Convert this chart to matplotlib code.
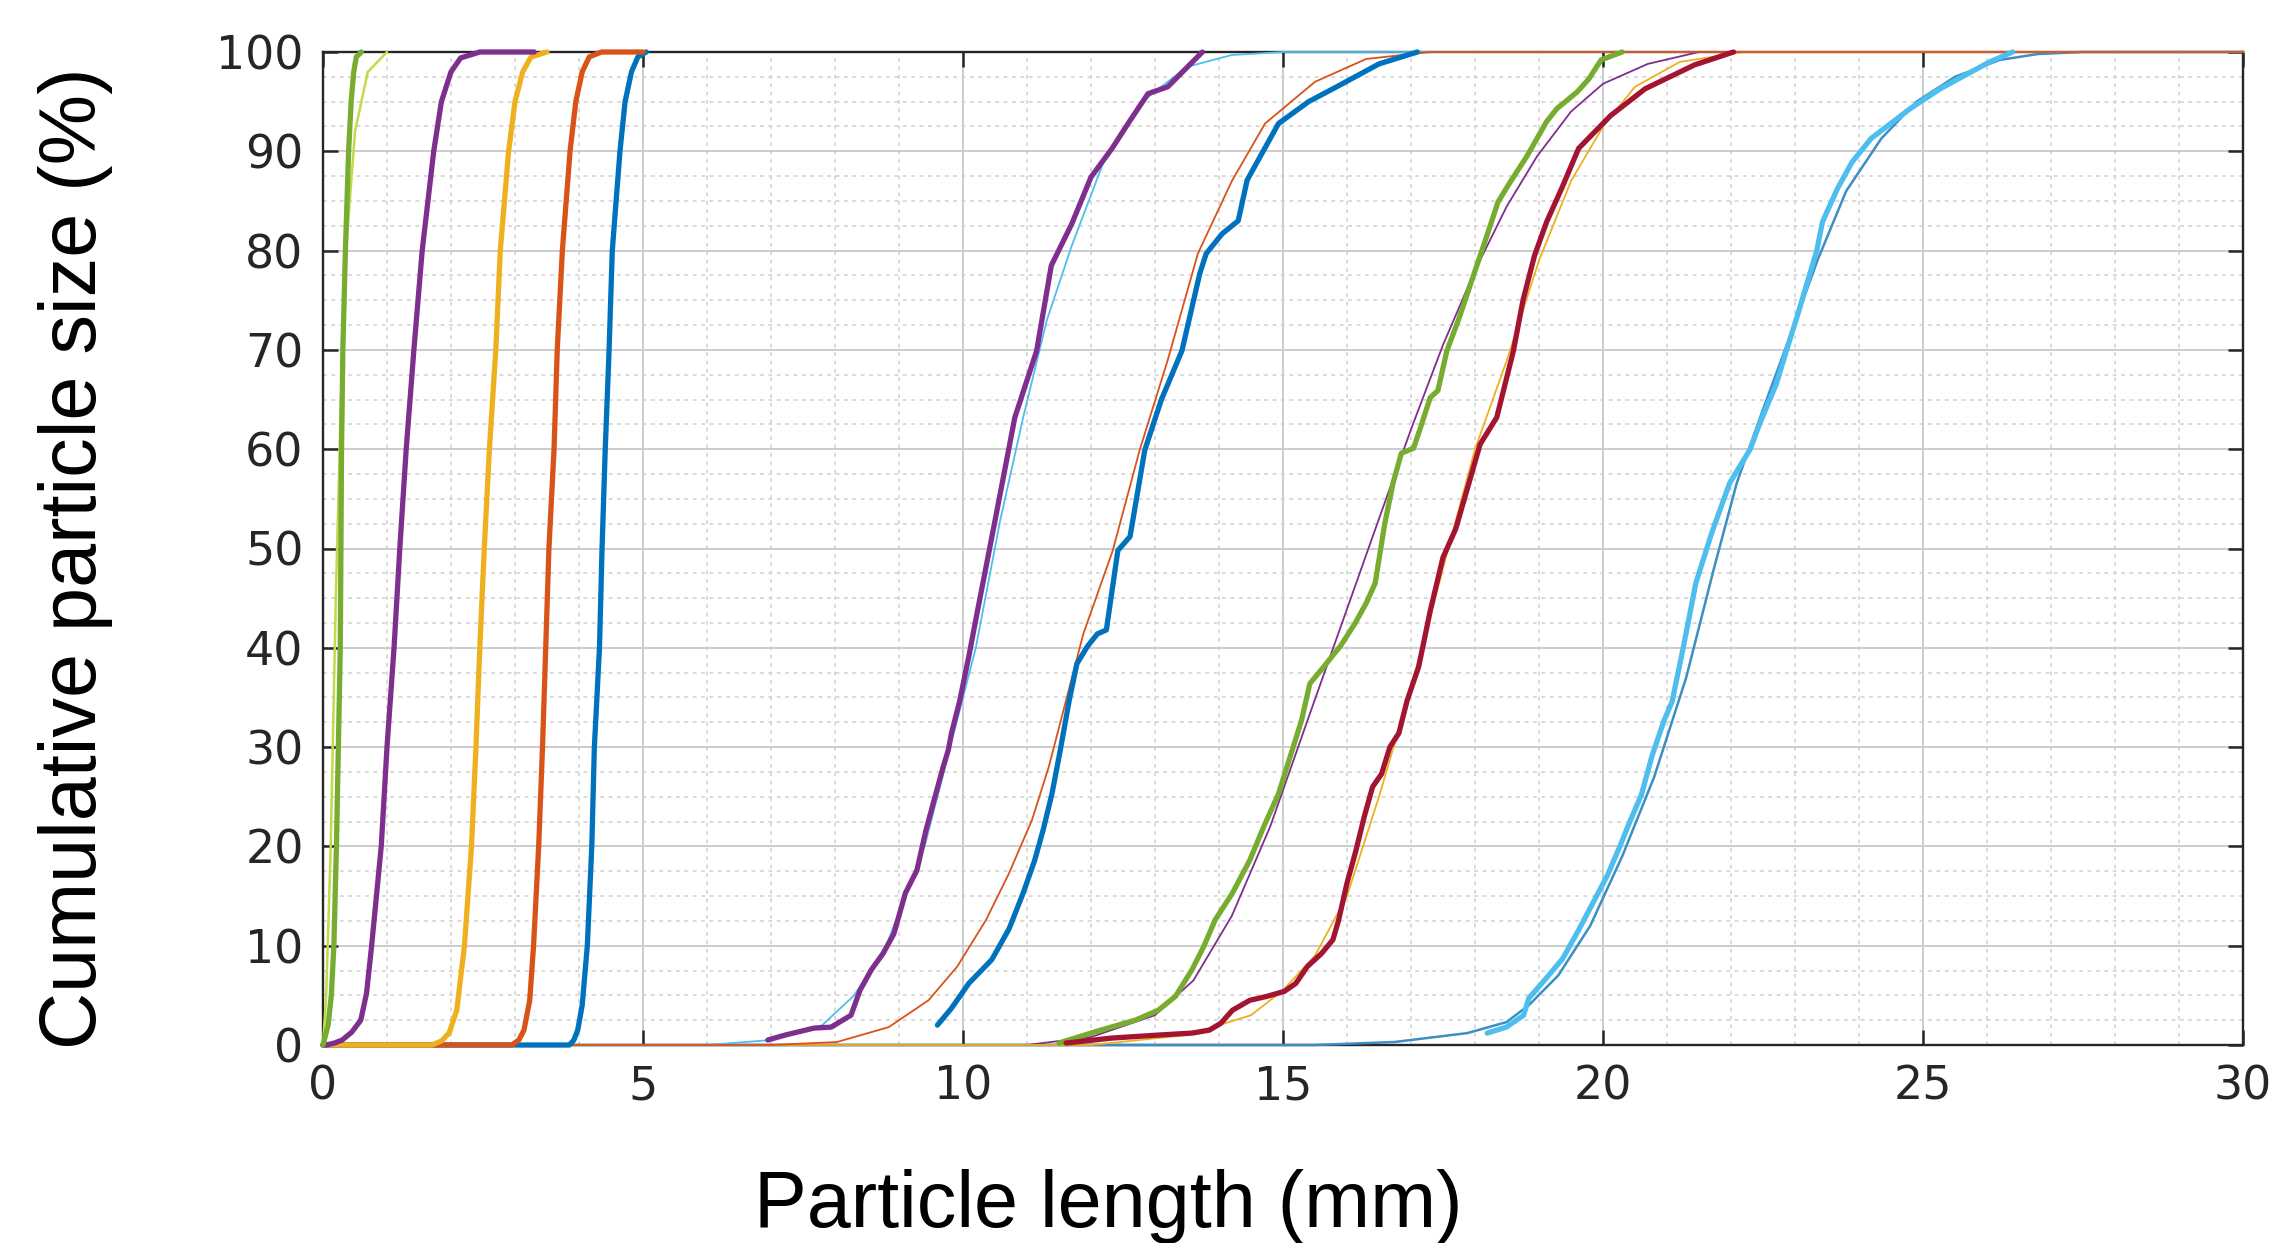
import matplotlib
matplotlib.use("Agg")
import matplotlib.pyplot as plt
from matplotlib.ticker import MultipleLocator

# ---------------- data ----------------
# Left group: narrow distributions (thick smooth curves)
left_green_x = [0.0, 0.08, 0.13, 0.17, 0.21, 0.24, 0.27, 0.28, 0.29, 0.31, 0.35, 0.40, 0.44, 0.48, 0.52, 0.60]
left_green_y = [0, 2, 5, 10, 20, 30, 40, 50, 60, 70, 80, 90, 95, 98, 99.5, 100]
left_green_fit_x = [0.0, 0.05, 0.12, 0.20, 0.28, 0.36, 0.50, 0.70, 1.00]
left_green_fit_y = [0, 5, 20, 45, 65, 80, 92, 98, 100]

left_purple_x = [0.0, 0.05, 0.18, 0.30, 0.45, 0.59, 0.68, 0.76, 0.91, 1.00, 1.11, 1.20, 1.30, 1.42, 1.55, 1.73,
                 1.85, 2.00, 2.15, 2.45, 3.3]
left_purple_y = [0, 0, 0.2, 0.5, 1.3, 2.5, 5.2, 10, 20, 30, 40, 50, 60, 70, 80, 90, 95, 98, 99.4, 100, 100]

left_yellow_x = [0.0, 1.70, 1.85, 1.97, 2.09, 2.21, 2.32, 2.39, 2.45, 2.52, 2.60, 2.70, 2.77, 2.90, 3.00, 3.12,
                 3.25, 3.50]
left_yellow_y = [0, 0, 0.4, 1.2, 3.5, 10, 20, 30, 40, 50, 60, 70, 80, 90, 95, 98, 99.5, 100]

left_orange_x = [0.0, 2.95, 3.06, 3.14, 3.23, 3.29, 3.37, 3.43, 3.48, 3.53, 3.61, 3.66, 3.74, 3.86, 3.95, 4.05,
                 4.16, 4.35, 5.0]
left_orange_y = [0, 0, 0.5, 1.5, 4.5, 10, 20, 30, 40, 50, 60, 70, 80, 90, 95, 98, 99.5, 100, 100]

left_blue_x = [0.0, 3.85, 3.92, 3.98, 4.05, 4.13, 4.20, 4.24, 4.32, 4.36, 4.41, 4.47, 4.52, 4.64, 4.72, 4.82,
               4.92, 5.05]
left_blue_y = [0, 0, 0.5, 1.5, 4, 10, 20, 30, 40, 50, 60, 70, 80, 90, 95, 98, 99.5, 100]

# Right group: measured (thick, jagged) + fitted (thin, smooth)
a_data_x = [6.95, 7.22, 7.67, 7.94, 8.25, 8.39, 8.57, 8.75, 8.92, 9.10, 9.28, 9.42, 9.55, 9.69, 9.77,
            9.82, 9.95, 10.09, 10.22, 10.50, 10.81, 11.15, 11.38, 11.70, 12.00, 12.33, 12.60, 12.89, 13.20, 13.74]
a_data_y = [0.5, 1.0, 1.7, 1.8, 3.0, 5.5, 7.6, 9.2, 11.2, 15.3, 17.6, 21.6, 24.7, 28.0, 29.7,
            31.4, 34.7, 39.1, 43.5, 52.8, 63.2, 69.9, 78.5, 82.7, 87.4, 90.3, 93.0, 95.8, 96.5, 100]
a_fit_x = [0.0, 6.0, 7.0, 7.8, 8.3, 8.8, 9.4, 9.8, 10.2, 10.58, 10.94, 11.31, 11.7, 12.2, 12.8, 13.5, 14.2, 15.0, 30.0]
a_fit_y = [0, 0, 0.5, 2, 5, 10, 20, 30, 40, 52.8, 63.2, 73, 80.5, 89, 95, 98.5, 99.7, 100, 100]

b_data_x = [9.60, 9.82, 10.09, 10.45, 10.72, 10.94, 11.12, 11.25, 11.39, 11.52, 11.66, 11.78, 11.95, 12.10, 12.24,
            12.42, 12.61, 12.84, 13.10, 13.42, 13.70, 13.80, 14.05, 14.30, 14.44, 14.93, 15.40, 15.84, 16.50, 17.10]
b_data_y = [2.0, 3.7, 6.2, 8.6, 11.7, 15.3, 18.6, 21.6, 25.3, 29.7, 34.7, 38.4, 40.2, 41.4, 41.8,
            49.8, 51.2, 59.9, 65.0, 69.9, 77.7, 79.7, 81.7, 83.0, 87.1, 92.8, 95.0, 96.5, 98.8, 100]
b_fit_x = [0.0, 7.0, 8.03, 8.84, 9.46, 9.91, 10.36, 10.72, 11.08, 11.34, 11.61, 11.88, 12.34, 12.76, 13.2,
           13.67, 14.2, 14.72, 15.5, 16.3, 17.3, 30.0]
b_fit_y = [0, 0, 0.3, 1.8, 4.5, 7.9, 12.6, 17.3, 22.7, 28, 34.7, 41.4, 49.8, 59.9, 69,
           79.7, 87, 92.8, 97, 99.3, 100, 100]

c_data_x = [11.50, 12.15, 12.69, 13.05, 13.32, 13.58, 13.76, 13.94, 14.21, 14.48, 14.70, 14.93, 15.11, 15.29,
            15.42, 15.60, 15.90, 16.12, 16.30, 16.44, 16.59, 16.72, 16.85, 17.04, 17.15, 17.30, 17.42, 17.56,
            17.74, 17.95, 18.16, 18.36, 18.55, 18.82, 19.12, 19.28, 19.60, 19.78, 19.97, 20.30]
c_data_y = [0.2, 1.5, 2.5, 3.5, 4.9, 7.6, 9.9, 12.6, 15.3, 18.6, 22.0, 25.3, 29.0, 32.7,
            36.4, 37.8, 40.2, 42.4, 44.5, 46.5, 52.5, 56.6, 59.6, 60.1, 62.2, 65.2, 65.9, 69.9,
            73.0, 77.0, 81.0, 84.9, 86.9, 89.6, 93.0, 94.3, 96.0, 97.3, 99.2, 100]
c_fit_x = [0.0, 11.0, 12.0, 13.0, 13.6, 14.2, 14.8, 15.4, 15.95, 16.5, 17.0, 17.5, 18.0, 18.5, 18.97,
           19.5, 20.0, 20.7, 21.5, 30.0]
c_fit_y = [0, 0, 0.8, 3, 6.5, 13, 22, 33, 43, 53, 62, 70.5, 78, 84.5, 89.5, 94, 96.8, 98.8, 100, 100]

d_data_x = [11.61, 12.33, 13.05, 13.58, 13.85, 14.03, 14.21, 14.48, 14.75, 15.02, 15.20, 15.38, 15.60, 15.78,
            15.87, 16.00, 16.14, 16.27, 16.40, 16.54, 16.67, 16.81, 16.94, 17.12, 17.30, 17.50, 17.70, 17.87,
            18.08, 18.34, 18.60, 18.75, 18.93, 19.12, 19.35, 19.62, 20.12, 20.66, 21.43, 22.04]
d_data_y = [0.2, 0.7, 1.0, 1.2, 1.5, 2.2, 3.5, 4.5, 4.9, 5.4, 6.2, 7.9, 9.2, 10.6,
            12.6, 16.3, 19.6, 23.0, 26.0, 27.3, 30.0, 31.4, 34.7, 38.1, 43.7, 49.1, 52.0, 55.8,
            60.5, 63.2, 69.9, 75.0, 79.5, 82.9, 86.2, 90.3, 93.6, 96.3, 98.7, 100]
d_fit_x = [0.0, 12.0, 13.5, 14.5, 15.0, 15.5, 16.0, 16.5, 17.0, 17.5, 18.0, 18.5, 19.0, 19.5, 20.0, 20.5,
           21.2, 22.2, 30.0]
d_fit_y = [0, 0, 1, 3, 5.5, 9, 15, 25, 36, 48, 60, 69, 79, 87, 92.5, 96.5, 99, 100, 100]

e_data_x = [18.19, 18.49, 18.76, 18.84, 19.11, 19.37, 19.63, 19.85, 20.07, 20.25, 20.42, 20.60, 20.77, 20.95,
            21.08, 21.25, 21.45, 21.70, 21.98, 22.30, 22.45, 22.71, 22.87, 23.03, 23.34, 23.43, 23.66, 23.89,
            24.19, 24.80, 25.27, 26.04, 26.40]
e_data_y = [1.2, 1.8, 3.0, 4.7, 6.7, 8.7, 11.7, 14.4, 17.1, 19.8, 22.5, 25.2, 29.2, 32.6,
            34.6, 39.9, 46.5, 51.6, 56.6, 60.0, 62.6, 66.6, 70.0, 73.3, 80.0, 82.9, 86.2, 88.9,
            91.3, 94.3, 96.3, 99.0, 100]
e_fit_x = [0.0, 15.5, 16.74, 17.88, 18.49, 18.84, 19.3, 19.8, 20.3, 20.8, 21.3, 21.73, 22.09, 22.5, 22.9,
           23.35, 23.8, 24.35, 24.9, 25.5, 26.2, 26.8, 27.5, 30.0]
e_fit_y = [0, 0, 0.3, 1.2, 2.3, 4.0, 7, 12, 19, 27, 37, 47.9, 56.6, 64, 71,
           79, 86, 91.3, 95, 97.5, 99.2, 99.8, 100, 100]

x_ticks = [0, 5, 10, 15, 20, 25, 30]
y_ticks = [0, 10, 20, 30, 40, 50, 60, 70, 80, 90, 100]
x_label = "Particle length (mm)"
y_label = "Cumulative particle size (%)"

# ---------------- figure ----------------
W, H = 2272, 1243
fig = plt.figure(figsize=(W / 100, H / 100), dpi=100)
ax = fig.add_axes([323 / W, 1 - 1045 / H, (2243 - 323) / W, (1045 - 52) / H])

BLUE = "#0072BD"; ORANGE = "#D95319"; YELLOW = "#EDB120"; PURPLE = "#7E2F8E"
GREEN = "#77AC30"; LBLUE = "#4DBEEE"; DRED = "#A2142F"

thick = 3.8
thin = 1.3

def line(x, y, c, lw, z=3):
    ax.plot(x, y, color=c, lw=lw, solid_joinstyle="round", solid_capstyle="round",
            clip_on=False, zorder=z)

# right group fits (thin, smooth) - drawn first
line(e_fit_x, e_fit_y, "#3b8fc4", 1.8, 3)
line(a_fit_x, a_fit_y, LBLUE, thin, 3)
line(c_fit_x, c_fit_y, PURPLE, thin, 3)
line(d_fit_x, d_fit_y, YELLOW, thin, 3)
line(b_fit_x, b_fit_y, ORANGE, thin, 3)

# left group
line(left_blue_x, left_blue_y, BLUE, thick, 4)
line(left_orange_x, left_orange_y, ORANGE, thick, 4)
line(left_yellow_x, left_yellow_y, YELLOW, thick, 4)
line(left_purple_x, left_purple_y, PURPLE, thick, 4)
line(left_green_fit_x, left_green_fit_y, "#c2d94a", 1.8, 4)
line(left_green_x, left_green_y, GREEN, thick, 4)

# right group measured data (thick, jagged)
line(a_data_x, a_data_y, PURPLE, thick, 4)
line(b_data_x, b_data_y, BLUE, thick, 4)
line(c_data_x, c_data_y, GREEN, thick, 4)
line(d_data_x, d_data_y, DRED, thick, 4)
line(e_data_x, e_data_y, LBLUE, thick, 4)

ax.set_xlim(0, 30)
ax.set_ylim(0, 100)
ax.set_xticks(x_ticks)
ax.set_yticks(y_ticks)
ax.xaxis.set_minor_locator(MultipleLocator(1))
ax.yaxis.set_minor_locator(MultipleLocator(2.5))

ax.grid(which="major", color="#cccccc", lw=1.4, ls="-", zorder=0)
ax.grid(which="minor", color="#d0d0d0", lw=1.1, ls=(0, (2.5, 3)), zorder=0)
ax.set_axisbelow(True)

for s in ax.spines.values():
    s.set_color("#262626")
    s.set_linewidth(1.7)

ax.tick_params(which="major", direction="in", length=11, width=1.8, color="#262626",
               top=True, right=True, labelsize=33, labelcolor="#262626")
ax.tick_params(which="minor", length=0, top=True, right=True)
ax.tick_params(axis="x", pad=14)
ax.tick_params(axis="y", pad=14)
for lab in ax.get_xticklabels() + ax.get_yticklabels():
    lab.set_fontfamily("DejaVu Sans")

fig.text(1108 / W, 1 - 1207 / H, x_label, ha="center", va="center",
         fontsize=57, family="Liberation Sans", color="black")
fig.text(76 / W, 1 - 558 / H, y_label, ha="center", va="center", rotation=90,
         fontsize=57, family="Liberation Sans", color="black")

fig.savefig("out.png", dpi=100, facecolor="white")
